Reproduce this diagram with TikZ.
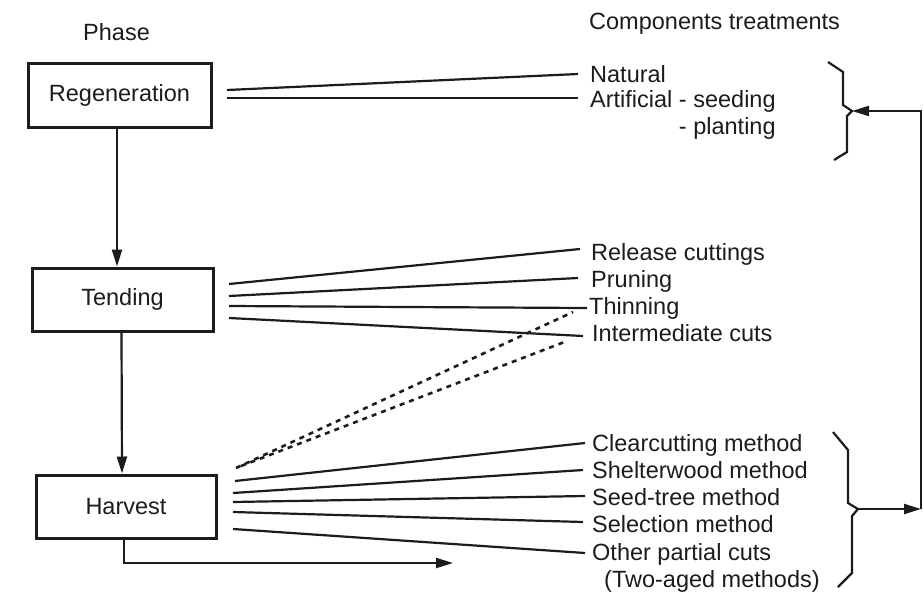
\documentclass[tikz,border=0pt]{standalone}
\usepackage{fontspec}
\setmainfont{Liberation Sans}
\usetikzlibrary{arrows.meta}
\definecolor{ink}{HTML}{1C1C1C}
\begin{document}
\begin{tikzpicture}[x=1pt,y=-1pt,
  phasebox/.style={draw=ink, line width=3pt, text=ink, font=\fontsize{23.5}{28}\selectfont, inner sep=0pt},
  item/.style={text=ink, font=\fontsize{23.5}{28}\selectfont, inner sep=0pt, anchor=base west},
  link/.style={draw=ink, line width=2.2pt},
  dashlink/.style={draw=ink, line width=2.6pt, dash pattern=on 5pt off 5pt},
  arr/.style={draw=ink, line width=2.2pt, -{Triangle[length=17pt,width=10pt]}},
  bracepath/.style={draw=ink, line width=2.2pt, line join=miter}
]
\useasboundingbox (0,0) rectangle (924,611);
\fill[white] (0,0) rectangle (924,611);

% headings
\node[item] (phase) at (83,40) {Phase};
\node[item] (comp) at (589,29) {Components treatments};

% phase boxes
\node[phasebox, minimum width=183pt, minimum height=64pt] (reg) at (119.5,95) {Regeneration};
\node[phasebox, minimum width=181pt, minimum height=63pt] (tend) at (122.5,299.5) {Tending};
\node[phasebox, minimum width=180pt, minimum height=63pt] (harv) at (126,506.5) {Harvest};

\draw[arr] ([xshift=-2.5pt]reg.south) -- ([xshift=-5.5pt]tend.north);
\draw[arr] ([xshift=-1pt]tend.south) -- ([xshift=-4pt]harv.north);
\coordinate (hout) at (453,563);
\draw[arr] ([xshift=-2pt]harv.south) |- (hout);

% regeneration treatments
\node[item] (nat) at (590,82) {Natural};
\node[item] (art) at (590,107) {Artificial - seeding};
\node[item] (pla) at (590,134) {\phantom{Artificial }- planting};
\coordinate (rs1) at (227,90);  \coordinate (re1) at (578,74);
\coordinate (rs2) at (227,98);  \coordinate (re2) at (578,98);
\draw[link] (rs1) -- (re1);
\draw[link] (rs2) -- (re2);

% tending treatments
\node[item] (rel) at (591,260) {Release cuttings};
\node[item] (pru) at (591,287) {Pruning};
\node[item] (thi) at (589,314) {Thinning};
\node[item] (int) at (592,341) {Intermediate cuts};
\coordinate (ts1) at (229,284); \coordinate (te1) at (580,249);
\coordinate (ts2) at (229,296); \coordinate (te2) at (578,278);
\coordinate (ts3) at (229,306); \coordinate (te3) at (587,308);
\coordinate (ts4) at (229,318); \coordinate (te4) at (583,336);
\draw[link] (ts1) -- (te1);
\draw[link] (ts2) -- (te2);
\draw[link] (ts3) -- (te3);
\draw[link] (ts4) -- (te4);

% dashed links harvest -> thinning / intermediate
\coordinate (ds1) at (236,468); \coordinate (de1) at (573,312);
\coordinate (ds2) at (241,466); \coordinate (de2) at (567,341);
\draw[dashlink] (ds1) -- (de1);
\draw[dashlink] (ds2) -- (de2);

% harvest treatments
\node[item] (clc) at (592,451) {Clearcutting method};
\node[item] (shw) at (592,478) {Shelterwood method};
\node[item] (sdt) at (592,505) {Seed-tree method};
\node[item] (sel) at (592,532) {Selection method};
\node[item] (oth) at (592,560) {Other partial cuts};
\node[item] (two) at (604,587) {(Two-aged methods)};
\coordinate (hs1) at (235,481); \coordinate (he1) at (585,443);
\coordinate (hs2) at (233,493); \coordinate (he2) at (583,470);
\coordinate (hs3) at (233,502); \coordinate (he3) at (585,496);
\coordinate (hs4) at (233,512); \coordinate (he4) at (583,522);
\coordinate (hs5) at (233,529); \coordinate (he5) at (585,553);
\draw[link] (hs1) -- (he1);
\draw[link] (hs2) -- (he2);
\draw[link] (hs3) -- (he3);
\draw[link] (hs4) -- (he4);
\draw[link] (hs5) -- (he5);

% braces
\coordinate (tbtip) at (852,111);
\draw[bracepath] (828,62) -- (843,72) -- (843,105) -- (tbtip) -- (847,116) -- (847,152) -- (834,160);
\coordinate (bbtip) at (858,509);
\draw[bracepath] (833,432) -- (848,450) -- (848,503) -- (bbtip) -- (852,516) -- (852,573) -- (838,587);

% feedback arrows
\coordinate (rc) at (921,509);
\coordinate (rt) at (921,111);
\draw[arr] (bbtip) -- (rc);
\draw[arr] (rc) -- (rt) -- (tbtip);
\end{tikzpicture}
\end{document}
